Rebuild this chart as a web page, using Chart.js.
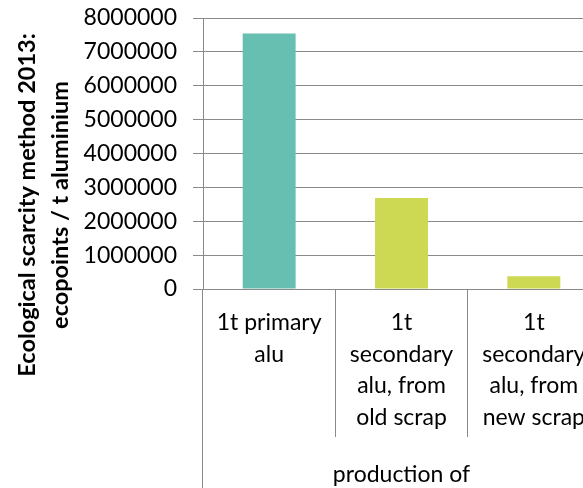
<!DOCTYPE html>
<html>
<head>
<meta charset="utf-8">
<script src="https://cdn.jsdelivr.net/npm/chart.js@4.4.1/dist/chart.umd.min.js"></script>
<style>
  html, body { margin: 0; padding: 0; background: #fff; overflow: hidden; }
  #wrap { width: 600px; height: 488px; }
</style>
</head>
<body>
<div id="wrap"><canvas id="myChart"></canvas></div>
<script>
// ecopoints per tonne of aluminium
const categories = [
  ['1t primary', 'alu'],
  ['1t', 'secondary', 'alu, from', 'old scrap'],
  ['1t', 'secondary', 'alu, from', 'new scrap']
];
const ecopoints = [7540000, 2690000, 380000];
const barColors = ['#67bfb1', '#cdd853', '#cdd853'];
const yTicks = [0, 1000000, 2000000, 3000000, 4000000, 5000000, 6000000, 7000000, 8000000];
const groupLabel = 'production of';
const yTitle = ['Ecological scarcity method 2013:', 'ecopoints / t aluminium'];

const gridColor = '#8a8a8a';
const fontFamily = 'Lato, Calibri, sans-serif';

// y title is drawn by hand (Excel puts it lower than the plot centre)
// and the left edge of the category axis runs on to the bottom
const axisExtras = {
  id: 'axisExtras',
  afterDraw(chart) {
    const ctx = chart.ctx;
    const area = chart.chartArea;
    const xs = chart.scales.x;
    // same spot as the first category boundary line of the x grid
    const p0 = xs.getPixelForTick(0);
    const edge = p0 - (xs.getPixelForTick(1) - p0) / 2;
    const x = Math.round(edge - 0.5) + 0.5;
    ctx.save();
    ctx.strokeStyle = gridColor;
    ctx.lineWidth = 1;
    ctx.beginPath();
    ctx.moveTo(x, area.bottom + xs.options.grid.tickLength);
    ctx.lineTo(x, chart.height);
    ctx.stroke();

    ctx.fillStyle = '#000';
    ctx.font = 'bold 23.5px ' + fontFamily;
    ctx.textAlign = 'center';
    ctx.textBaseline = 'middle';
    ctx.translate(27, 205);
    ctx.rotate(-Math.PI / 2);
    yTitle.forEach((line, i) => ctx.fillText(line, 0, i * 33));
    ctx.restore();
  }
};

const data = {
  labels: categories,
  datasets: [{
    data: ecopoints,
    backgroundColor: barColors,
    borderWidth: 0,
    barPercentage: 0.4,
    categoryPercentage: 1
  }]
};

const config = {
  type: 'bar',
  data: data,
  options: {
    responsive: true,
    maintainAspectRatio: false,
    animation: false,
    layout: { padding: { top: 18, right: 0, left: 0, bottom: 0 } },
    plugins: {
      legend: { display: false },
      tooltip: { enabled: false }
    },
    scales: {
      x: {
        grid: { offset: true, drawOnChartArea: false, tickLength: 148, color: gridColor },
        border: { color: gridColor },
        ticks: {
          padding: -130,
          maxRotation: 0,
          autoSkip: false,
          color: '#000',
          font: { family: fontFamily, size: 23, lineHeight: 1.37 }
        },
        title: {
          display: true,
          text: groupLabel,
          color: '#000',
          font: { family: fontFamily, size: 23, lineHeight: 1.2 },
          padding: { top: 0, bottom: 0 }
        },
        afterFit: scale => { scale.height = 199; }
      },
      y: {
        min: 0,
        max: 8000000,
        grid: { color: gridColor, tickLength: 10 },
        border: { color: gridColor },
        ticks: {
          padding: 16,
          color: '#000',
          font: { family: fontFamily, size: 23 },
          callback: value => String(value)
        },
        afterBuildTicks: scale => { scale.ticks = yTicks.map(v => ({ value: v })); },
        afterFit: scale => {
          scale.width = 203;
          scale.paddingTop = 0;
          scale.paddingBottom = 0;
        }
      }
    }
  },
  plugins: [axisExtras]
};

const myChart = new Chart(document.getElementById('myChart'), config);
</script>
</body>
</html>
